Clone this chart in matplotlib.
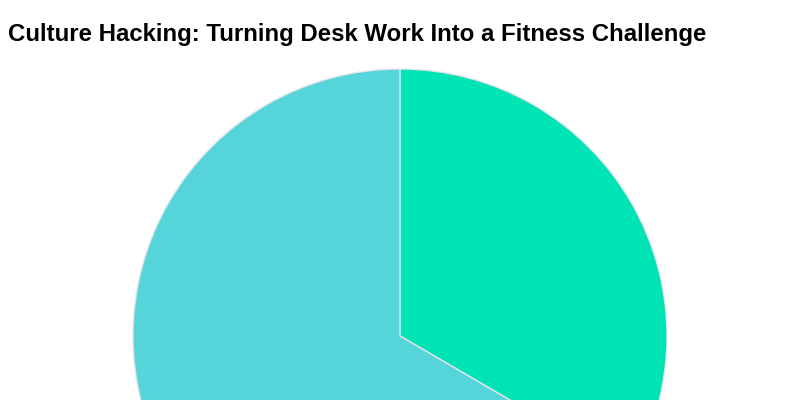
import matplotlib
matplotlib.use("Agg")
import matplotlib.pyplot as plt

# slice data (clockwise from 12 o'clock)
segments = ["Active", "Desk"]
shares = [33.4, 66.6]
colors = ["#00E3B4", "#55D4DA"]

fig = plt.figure(figsize=(8, 4), dpi=100)
ax = fig.add_axes([0, 0, 1, 1])
ax.set_xlim(0, 800)
ax.set_ylim(0, 400)
ax.set_aspect("equal")
ax.axis("off")

ax.pie(shares, colors=colors, startangle=90, counterclock=False,
       center=(400, 64), radius=267,
       wedgeprops=dict(edgecolor="#e4e4ec", linewidth=1))
ax.set_xlim(0, 800)
ax.set_ylim(0, 400)

fig.text(8/800, 1 - 35/400, "Culture Hacking: Turning Desk Work Into a Fitness Challenge",
         fontsize=17.3, fontweight="bold", family="Liberation Sans",
         ha="left", va="center", color="#000000")

fig.savefig("out.png", dpi=100)
